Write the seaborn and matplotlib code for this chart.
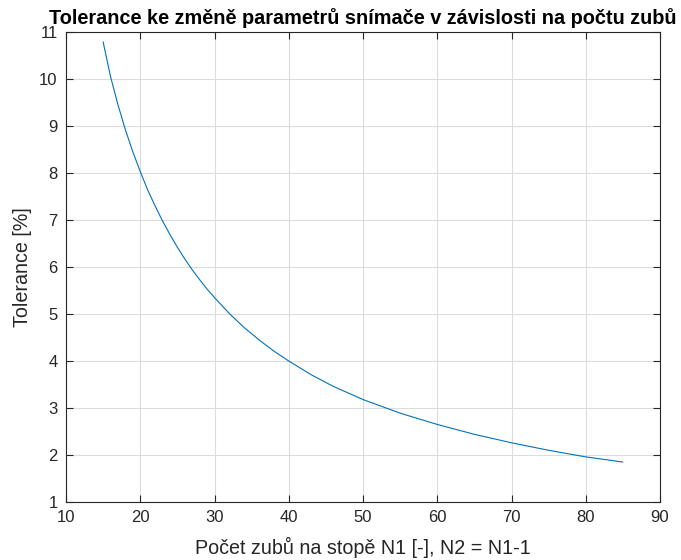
import matplotlib
matplotlib.use("Agg")
import matplotlib.pyplot as plt
import seaborn as sns
import pandas as pd

# Number of teeth on the track (N1) and the corresponding tolerance
teeth = [15, 16, 17, 18, 19, 20, 21, 22, 23, 24, 25, 26, 27, 28, 29, 30,
         32, 34, 36, 38, 40, 43, 46, 50, 55, 60, 65, 70, 75, 80, 85]
tolerance = [10.79, 10.05, 9.45, 8.92, 8.45, 8.03, 7.64, 7.30, 6.98, 6.69,
             6.42, 6.17, 5.94, 5.73, 5.53, 5.35, 5.01, 4.71, 4.45, 4.21,
             4.00, 3.71, 3.46, 3.18, 2.89, 2.65, 2.44, 2.26, 2.10, 1.96, 1.85]

x_ticks = [10, 20, 30, 40, 50, 60, 70, 80, 90]
y_ticks = [1, 2, 3, 4, 5, 6, 7, 8, 9, 10, 11]

sns.set_theme(style="white")
plt.rcParams["font.family"] = ["Liberation Sans", "DejaVu Sans"]

df = pd.DataFrame({"N1": teeth, "Tolerance": tolerance})

fig = plt.figure(figsize=(6.81, 5.60), dpi=100)
ax = fig.add_axes([66 / 681, 58 / 560, 594 / 681, 470 / 560])

sns.lineplot(data=df, x="N1", y="Tolerance", ax=ax, color="#0072BD",
             linewidth=0.8)

ax.set_xlim(10, 90)
ax.set_ylim(1, 11)
ax.set_xticks(x_ticks)
ax.set_yticks(y_ticks)
ax.grid(True, color="#DCDCDC", linewidth=0.8)

for s in ax.spines.values():
    s.set_visible(True)
    s.set_color("#262626")
    s.set_linewidth(0.8)

ax.tick_params(direction="in", length=5, width=0.8, colors="#262626",
               labelsize=12, top=True, right=True, bottom=True, left=True,
               labelcolor="#262626", pad=6)

ax.set_xlabel("Počet zubů na stopě N1 [-], N2 = N1-1", fontsize=14.2,
              color="#262626", labelpad=8)
ax.set_ylabel("Tolerance [%]", fontsize=14.2, color="#262626", labelpad=5)
ax.set_title("Tolerance ke změně parametrů snímače v závislosti na počtu zubů",
             fontsize=14.3, fontweight="bold", color="black", pad=6)

fig.savefig("out.png", dpi=100)
